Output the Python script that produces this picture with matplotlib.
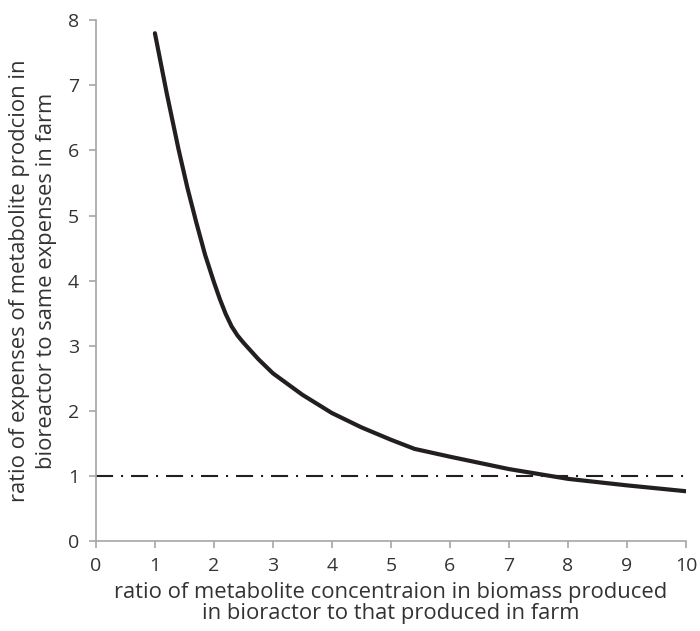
import numpy as np
import matplotlib
matplotlib.use("Agg")
import matplotlib.pyplot as plt

# values
ratio_conc = [1.0, 1.2, 1.4, 1.55, 1.7, 1.85, 2.0, 2.1, 2.2, 2.3, 2.4, 2.5, 2.75, 3.0, 3.5, 4.0, 4.5, 5.0, 5.4, 6.0, 7.0, 8.0, 9.0, 10.0]
ratio_cost = [7.8, 6.88, 6.02, 5.43, 4.9, 4.4, 3.98, 3.72, 3.49, 3.3, 3.16, 3.05, 2.8, 2.58, 2.25, 1.97, 1.75, 1.56, 1.42, 1.3, 1.11, 0.96, 0.86, 0.77]
breakeven = 1.0

xticks = list(range(0, 11))
yticks = list(range(0, 9))

plt.rcParams['font.family'] = ['Open Sans', 'DejaVu Sans']

fig = plt.figure(figsize=(7, 6.31), dpi=100)
ax = fig.add_axes([0.137, 0.142, 0.843, 0.826])

ax.plot(ratio_conc, ratio_cost, color='#231f20', lw=3, solid_capstyle='round', solid_joinstyle='round')
ax.axhline(breakeven, color='#231f20', lw=1.5, linestyle=(0, (8.2, 3.8, 1, 3.8)))

ax.set_xlim(0, 10)
ax.set_ylim(0, 8)
ax.set_xticks(xticks)
ax.set_yticks(yticks)

for s in ['top', 'right']:
    ax.spines[s].set_visible(False)
for s in ['left', 'bottom']:
    ax.spines[s].set_color('#a6a6a6')
    ax.spines[s].set_linewidth(1.2)

ax.tick_params(direction='out', length=5, width=1.2, color='#a6a6a6',
               labelsize=14, labelcolor='#333333')
ax.tick_params(axis='x', pad=6)
ax.tick_params(axis='y', pad=7)

ax.set_xlabel('ratio of metabolite concentraion in biomass produced\nin bioractor to that produced in farm',
              fontsize=15.8, color='#333333', linespacing=1.05, labelpad=5)
ax.set_ylabel('ratio of expenses of metabolite prodcion in\nbioreactor to same expenses in farm',
              fontsize=15.8, color='#333333', linespacing=1.35, labelpad=8)

fig.savefig('out.png', dpi=100)
